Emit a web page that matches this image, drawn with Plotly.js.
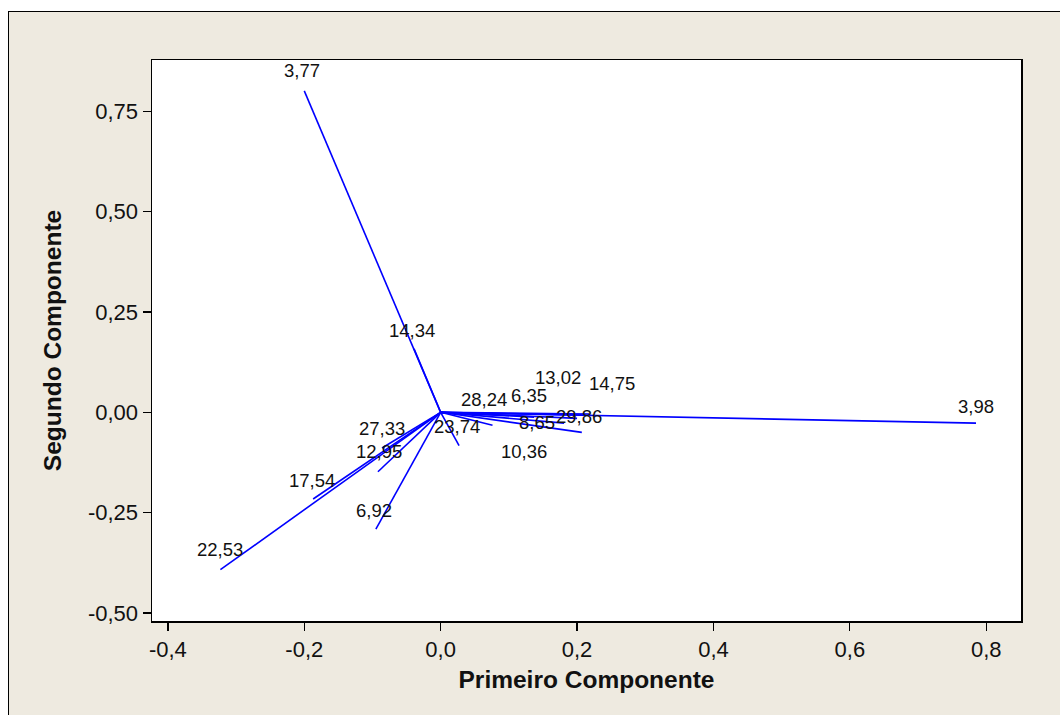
<!DOCTYPE html>
<html>
<head>
<meta charset="utf-8">
<script src="https://cdn.plot.ly/plotly-3.0.1.min.js"></script>
<style>
  html, body { margin: 0; padding: 0; background: #ffffff; width: 1060px; height: 715px; overflow: hidden; }
  #frame { position: absolute; left: 8px; top: 11px; width: 1052px; height: 704px;
           border-top: 1.5px solid #000; border-left: 1.5px solid #000; background: #EEEAE0; }
  #chart { position: absolute; left: 0; top: 0; width: 1050px; height: 702px; }
</style>
</head>
<body>
<div id="frame"><div id="chart"></div></div>
<script>
// Variable names and their loadings on the first two principal components
const variables = ["3,77", "14,34", "28,24", "6,35", "13,02", "14,75", "29,86", "8,65",
                   "10,36", "23,74", "3,98", "27,33", "12,95", "17,54", "6,92", "22,53"];
const pc1 = [-0.200, -0.039, 0.076, 0.137, 0.210, 0.218, 0.207, 0.181,
             0.200, 0.027, 0.785, -0.086, -0.092, -0.187, -0.095, -0.323];
const pc2 = [0.801, 0.158, -0.032, -0.012, -0.007, -0.004, -0.050, -0.027,
             -0.015, -0.083, -0.027, -0.089, -0.148, -0.216, -0.291, -0.392];

// Pixel nudges for each name label, relative to the end of its line
const labelDx = [-2, -2, -8, -5, -26, 23, -3, -27, -53, -2, 0, 0, 1, -1, -2, 0];
const labelDy = [20, 18, 26, 22, 38, 30, 16, 1, -33, 19, 17, 20, 20, 19, 19, 20];

const xTicks = [-0.4, -0.2, 0.0, 0.2, 0.4, 0.6, 0.8];
const xTickText = ["-0,4", "-0,2", "0,0", "0,2", "0,4", "0,6", "0,8"];
const yTicks = [-0.5, -0.25, 0, 0.25, 0.5, 0.75];
const yTickText = ["-0,50", "-0,25", "0,00", "0,25", "0,50", "0,75"];

// One segment from the origin to each loading, separated by gaps
const segX = [], segY = [];
variables.forEach((v, i) => { segX.push(0, pc1[i], null); segY.push(0, pc2[i], null); });

const trace = {
  type: "scatter", mode: "lines", x: segX, y: segY,
  line: { color: "#0000FF", width: 1.6 }, hoverinfo: "skip", showlegend: false
};

const FONT = "Liberation Sans, Arial, sans-serif";

const annotations = variables.map((v, i) => ({
  x: pc1[i], y: pc2[i], xref: "x", yref: "y", text: v, showarrow: false,
  xshift: labelDx[i], yshift: labelDy[i],
  font: { family: FONT, size: 18.5, color: "#111" }
}));

const axisCommon = {
  showgrid: false, zeroline: false, showline: true, linecolor: "#000", linewidth: 1.5,
  mirror: true, ticks: "outside", ticklen: 8, tickwidth: 1.3, tickcolor: "#000",
  tickfont: { family: FONT, size: 22, color: "#111" }
};

const layout = {
  width: 1050, height: 702,
  margin: { l: 143, r: 38, t: 48, b: 93 },
  paper_bgcolor: "rgba(0,0,0,0)", plot_bgcolor: "#ffffff",
  showlegend: false,
  xaxis: Object.assign({}, axisCommon, {
    range: [-0.4233, 0.851], tickvals: xTicks, ticktext: xTickText,
    title: { text: "<b>Primeiro Componente</b>", standoff: 10,
             font: { family: FONT, size: 24.5, color: "#111" } }
  }),
  yaxis: Object.assign({}, axisCommon, {
    range: [-0.520, 0.878], tickvals: yTicks, ticktext: yTickText,
    title: { text: "<b>Segundo Componente</b>", standoff: 19,
             font: { family: FONT, size: 24.5, color: "#111" } }
  }),
  annotations: annotations
};

Plotly.newPlot("chart", [trace], layout, { displayModeBar: false, staticPlot: true });
</script>
</body>
</html>
